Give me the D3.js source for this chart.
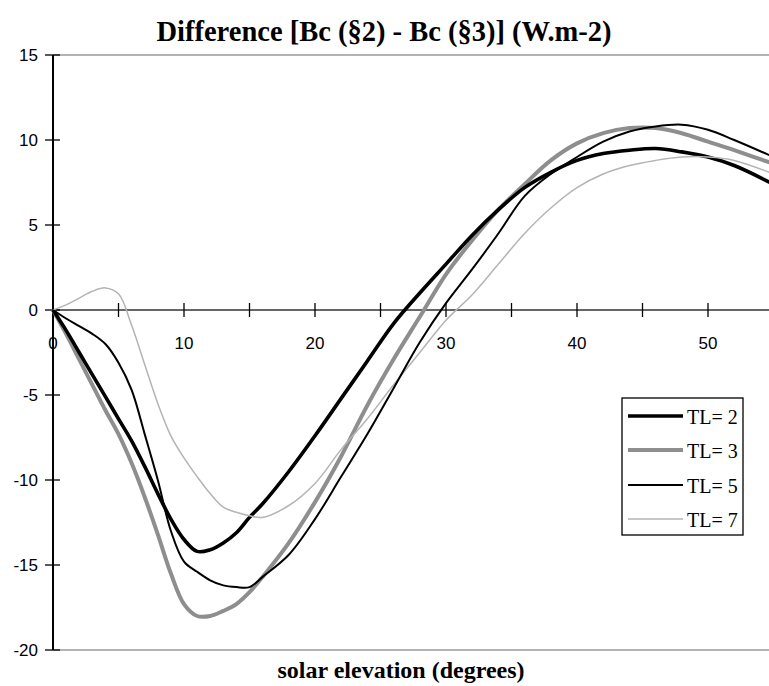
<!DOCTYPE html>
<html>
<head>
<meta charset="utf-8">
<script src="https://cdn.jsdelivr.net/npm/d3@7/dist/d3.min.js"></script>
<style>
  html, body { margin: 0; padding: 0; background: #fff; }
  svg { display: block; }
</style>
</head>
<body>
<svg id="chart" width="769" height="686"></svg>
<script>
// ---- data ----
const elevation = [0,1,2,3,4,5,6,7,8,9,10,11,12,13,14,15,16,18,20,22,24,26,28,30,32,34,36,38,40,42,44,46,48,50,52,55];
const tl2 = [0,-1.2,-2.5,-3.8,-5.1,-6.4,-7.7,-9.2,-10.8,-12.3,-13.5,-14.2,-14.1,-13.7,-13.1,-12.2,-11.4,-9.5,-7.4,-5.2,-3.0,-0.8,1.0,2.7,4.4,5.9,7.2,8.1,8.8,9.2,9.4,9.5,9.3,9.0,8.5,7.4];
const tl3 = [0,-1.4,-2.9,-4.4,-5.9,-7.3,-9.0,-11.0,-13.2,-15.5,-17.3,-18.0,-18.0,-17.7,-17.3,-16.6,-15.7,-13.7,-11.3,-8.6,-5.6,-2.9,-0.4,2.1,4.1,5.9,7.4,8.8,9.8,10.4,10.7,10.7,10.4,9.9,9.4,8.6];
const tl5 = [0,-0.5,-0.95,-1.4,-2.0,-3.1,-4.7,-7.3,-10.0,-13.0,-14.8,-15.4,-15.9,-16.2,-16.3,-16.3,-15.7,-14.4,-12.3,-9.8,-7.3,-4.6,-1.9,0.4,2.4,4.5,6.7,8.0,9.0,9.9,10.5,10.8,10.9,10.6,10.0,9.0];
const tl7 = [0,0.3,0.7,1.1,1.3,0.95,-0.9,-3.2,-5.5,-7.4,-8.7,-9.8,-10.8,-11.6,-11.9,-12.1,-12.2,-11.5,-10.2,-8.2,-6.4,-4.4,-2.5,-0.6,0.9,2.7,4.5,6.0,7.2,8.0,8.5,8.8,9.0,9.0,8.8,8.0];
const seriesNames = ["TL= 2", "TL= 3", "TL= 5", "TL= 7"];
const xTickValues = [0,5,10,15,20,25,30,35,40,45,50];
const xTickLabels = [0,10,20,30,40,50];
const yTickValues = [-20,-15,-10,-5,0,5,10,15];
const titleText = "Difference [Bc (§2) - Bc (§3)] (W.m-2)";
const xTitleText = "solar elevation (degrees)";

// ---- layout ----
const svg = d3.select("#chart");
const W = 769, H = 686;
const x = d3.scaleLinear().domain([0, 55]).range([53, 53 + 55 * 13.1]);
const y = d3.scaleLinear().domain([-20, 15]).range([650, 55]);

const styles = [
  { color: "#000000", width: 3.6 },
  { color: "#8e8e8e", width: 4.0 },
  { color: "#000000", width: 2.0 },
  { color: "#b4b4b4", width: 1.5 }
];
const allSeries = [tl2, tl3, tl5, tl7];

svg.append("defs").append("clipPath").attr("id", "plotclip")
  .append("rect").attr("x", 40).attr("y", 40).attr("width", W - 40).attr("height", 620);

// frame lines (top and bottom, gray)
svg.append("line").attr("x1", x(0)).attr("x2", W).attr("y1", y(15)).attr("y2", y(15))
  .attr("stroke", "#9a9a9a").attr("stroke-width", 1.5);
svg.append("line").attr("x1", x(0)).attr("x2", W).attr("y1", y(-20)).attr("y2", y(-20))
  .attr("stroke", "#9a9a9a").attr("stroke-width", 1.5);

// x axis at y = 0
const xAxisG = svg.append("g").attr("transform", `translate(0,${y(0)})`);
xAxisG.append("line").attr("x1", x(0)).attr("x2", W).attr("stroke", "#333").attr("stroke-width", 1.5);
xAxisG.selectAll("line.tick").data(xTickValues.filter(d => d > 0)).enter().append("line")
  .attr("class", "tick").attr("x1", d => x(d)).attr("x2", d => x(d))
  .attr("y1", -7).attr("y2", 7).attr("stroke", "#000").attr("stroke-width", 1.3);
xAxisG.selectAll("text").data(xTickLabels).enter().append("text")
  .attr("x", d => x(d)).attr("y", 39)
  .attr("text-anchor", "middle")
  .attr("font-family", "Liberation Sans, Arial, sans-serif").attr("font-size", 17)
  .text(d => d);

// y axis
const yAxisG = svg.append("g").attr("transform", `translate(${x(0)},0)`);
yAxisG.append("line").attr("y1", y(15)).attr("y2", y(-20)).attr("stroke", "#000").attr("stroke-width", 2);
yAxisG.selectAll("line.tick").data(yTickValues).enter().append("line")
  .attr("class", "tick").attr("x1", -8).attr("x2", 7).attr("y1", d => y(d)).attr("y2", d => y(d))
  .attr("stroke", "#000").attr("stroke-width", 1.3);
yAxisG.selectAll("text").data(yTickValues).enter().append("text")
  .attr("x", -15).attr("y", d => y(d) + 6)
  .attr("text-anchor", "end")
  .attr("font-family", "Liberation Sans, Arial, sans-serif").attr("font-size", 17)
  .text(d => d);

// curves
const line = d3.line().x(d => x(d[0])).y(d => y(d[1])).curve(d3.curveCatmullRom.alpha(0.5));
const curvesG = svg.append("g").attr("clip-path", "url(#plotclip)");
[1, 0, 3, 2].forEach(i => {
  const pts = elevation.map((e, k) => [e, allSeries[i][k]]);
  curvesG.append("path").datum(pts)
    .attr("d", line)
    .attr("fill", "none")
    .attr("stroke", styles[i].color)
    .attr("stroke-width", styles[i].width)
    .attr("stroke-linejoin", "round");
});

// title
svg.append("text").attr("x", 384).attr("y", 41)
  .attr("text-anchor", "middle")
  .attr("font-family", "Liberation Serif, Times New Roman, serif").attr("font-weight", "bold")
  .attr("font-size", 28.5)
  .text(titleText);

// x title
svg.append("text").attr("x", 401).attr("y", 678)
  .attr("text-anchor", "middle")
  .attr("font-family", "Liberation Serif, Times New Roman, serif").attr("font-weight", "bold")
  .attr("font-size", 24)
  .text(xTitleText);

// legend
const legend = svg.append("g");
legend.append("rect").attr("x", 622).attr("y", 398).attr("width", 121).attr("height", 137)
  .attr("fill", "#fff").attr("stroke", "#000").attr("stroke-width", 1.3);
const legendY = [416, 450, 485, 519];
seriesNames.forEach((name, i) => {
  legend.append("line").attr("x1", 628).attr("x2", 683).attr("y1", legendY[i]).attr("y2", legendY[i])
    .attr("stroke", styles[i].color).attr("stroke-width", styles[i].width);
  legend.append("text").attr("x", 687).attr("y", legendY[i] + 8)
    .attr("font-family", "Liberation Serif, Times New Roman, serif").attr("font-size", 20)
    .text(name);
});
</script>
</body>
</html>
